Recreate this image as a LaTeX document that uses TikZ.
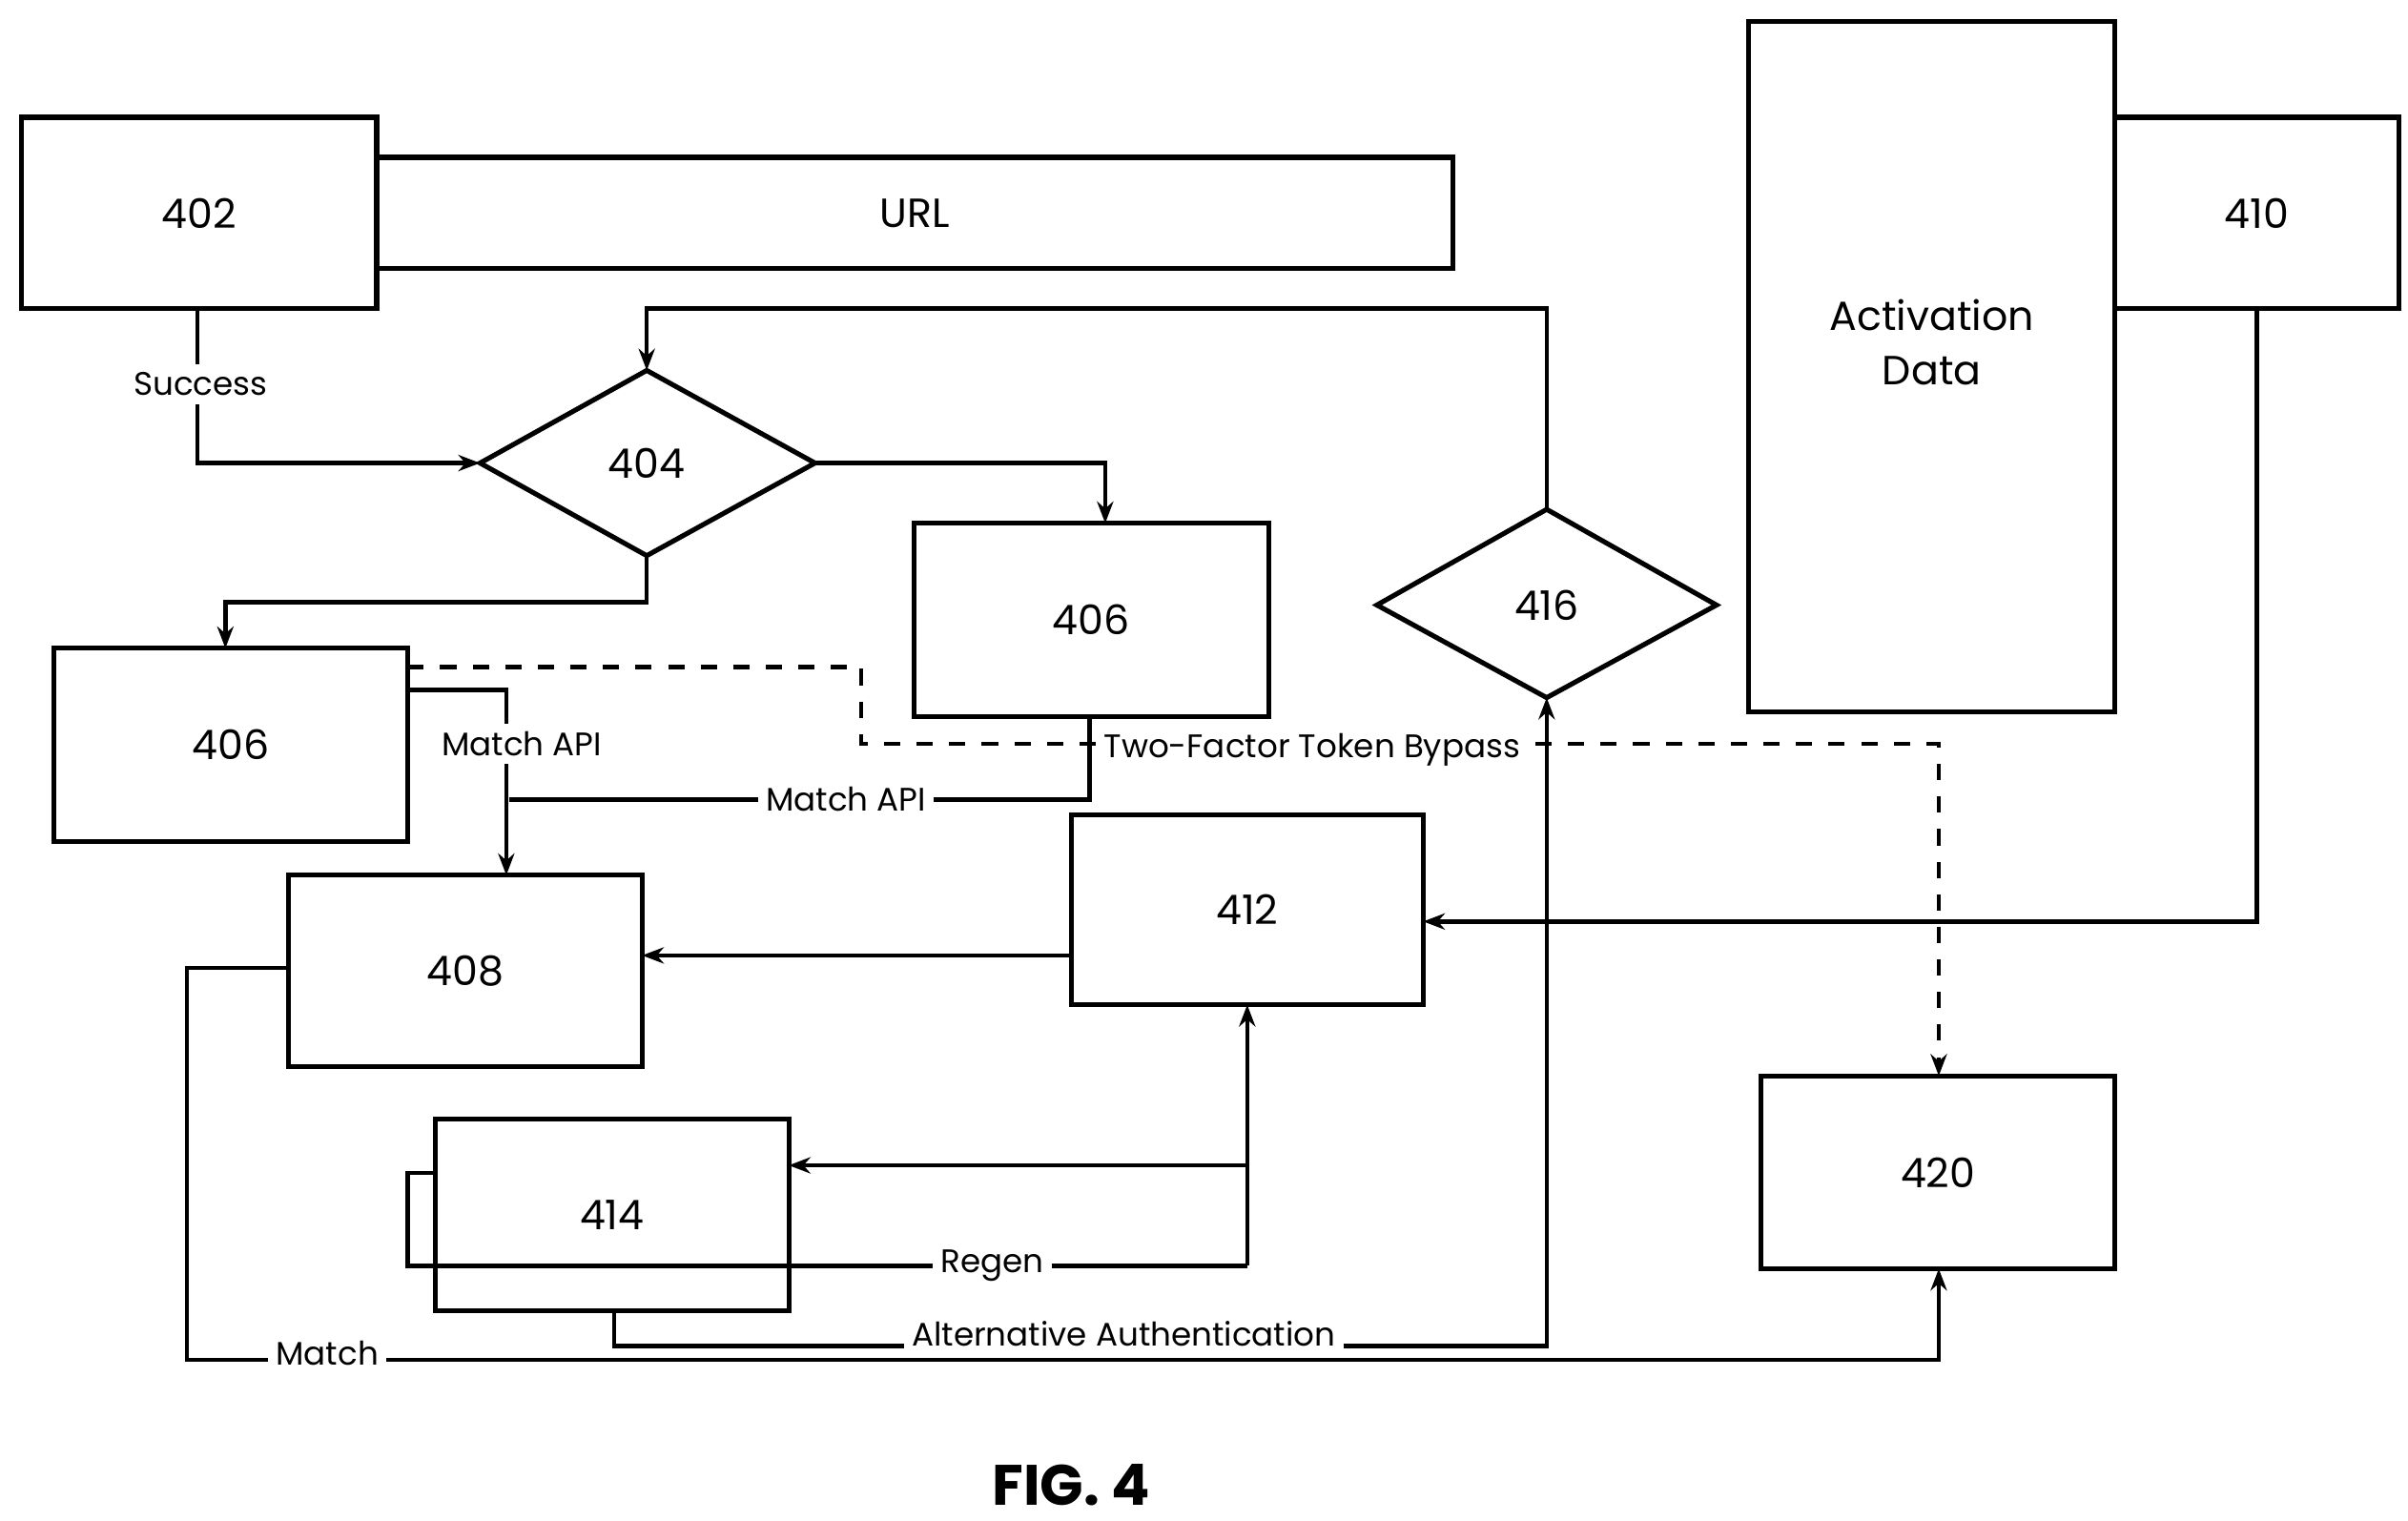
\documentclass[tikz,border=0pt]{standalone}
\usepackage{fontspec}
\setmainfont{Poppins}
\usetikzlibrary{arrows.meta}
\begin{document}
\begin{tikzpicture}[x=0.01cm,y=-0.01cm,
  bx/.style={draw,line width=0.9pt,inner sep=0pt,font=\fontsize{7.5}{9}\selectfont},
  ln/.style={draw,line width=0.8pt},
  ar/.style={ln,-{Stealth[length=4pt,width=3pt]}},
  lb/.style={fill=white,inner sep=1.5pt,font=\fontsize{6}{7}\selectfont}]
\useasboundingbox (0,0) rectangle (1560,985);
\node[bx,minimum width=2.30cm,minimum height=1.24cm] (n402) at (129,138) {402};
\node[bx,minimum width=6.97cm,minimum height=0.72cm] (url) at (592.5,138) {URL};
\node[bx,minimum width=2.37cm,minimum height=4.47cm] (act) at (1251.5,237.5) {};
\node[font=\fontsize{7.5}{10}\selectfont,align=center] (actt) at (1251.5,222) {Activation\\Data};
\node[bx,minimum width=1.84cm,minimum height=1.24cm] (n410) at (1462,138) {410};
\draw[line width=0.9pt] (311,300) -- (419,240) -- (528,300) -- (419,360) -- cycle;
\node[font=\fontsize{7.5}{9}\selectfont] (n404) at (419,300) {404};
\coordinate (d404l) at (311,300); \coordinate (d404r) at (528,300);
\coordinate (d404t) at (419,240); \coordinate (d404b) at (419,360);
\draw[line width=0.9pt] (892,392) -- (1002,330) -- (1112,392) -- (1002,452) -- cycle;
\node[font=\fontsize{7.5}{9}\selectfont] (n416) at (1002,392) {416};
\coordinate (d416t) at (1002,330); \coordinate (d416b) at (1002,452);
\node[bx,minimum width=2.30cm,minimum height=1.25cm] (n406r) at (707,401.5) {406};
\node[bx,minimum width=2.29cm,minimum height=1.25cm] (n406l) at (149.5,482.5) {406};
\node[bx,minimum width=2.29cm,minimum height=1.24cm] (n408) at (301.5,629) {408};
\node[bx,minimum width=2.28cm,minimum height=1.23cm] (n412) at (808,589.5) {412};
\node[bx,minimum width=2.29cm,minimum height=1.24cm] (n414) at (396.5,787) {414};
\node[bx,minimum width=2.29cm,minimum height=1.25cm] (n420) at (1255.5,759.5) {420};
\node[font=\bfseries\fontsize{10.5}{12}\selectfont] (fig) at (694,962) {FIG. 4};
% connectors
\draw[ar] (128,200) -- (128,300) -- (d404l);
\node[lb] at (130,249) {Success};
\draw[ar] (d404r) -- (716,300) -- (716,339);
\draw[ar] (d404b) -- (419,390) -- (146,390) -- (146,420);
\draw[ar] (d416t) -- (1002,200) -- (419,200) -- (d404t);
\draw[ar] (264,447) -- (328,447) -- (328,567);
\node[lb] at (338,482) {Match API};
\draw[ln] (706,464) -- (706,518) -- (330,518);
\node[lb] at (548,518) {Match API};
\draw[ln,dashed,-{Stealth[length=4pt,width=3pt]}] (264,432) -- (558,432) -- (558,482) -- (1256,482) -- (1256,697);
\node[lb] at (850,486) {Two-Factor Token Bypass};
\draw[ar] (1462,200) -- (1462,597) -- (922,597);
\draw[ar] (694,619) -- (416,619);
\draw[ar] (808,820) -- (808,651);
\draw[ar] (808,755) -- (511,755);
\draw[ln] (808,820) -- (264,820) -- (264,760) -- (282,760);
\node[lb] at (643,820) {Regen};
\draw[ar] (398,849) -- (398,872) -- (1002,872) -- (d416b);
\node[lb] at (728,864) {Alternative Authentication};
\draw[ar] (187,627) -- (121,627) -- (121,881) -- (1256,881) -- (1256,822);
\node[lb] at (212,877) {Match};
\end{tikzpicture}
\end{document}
